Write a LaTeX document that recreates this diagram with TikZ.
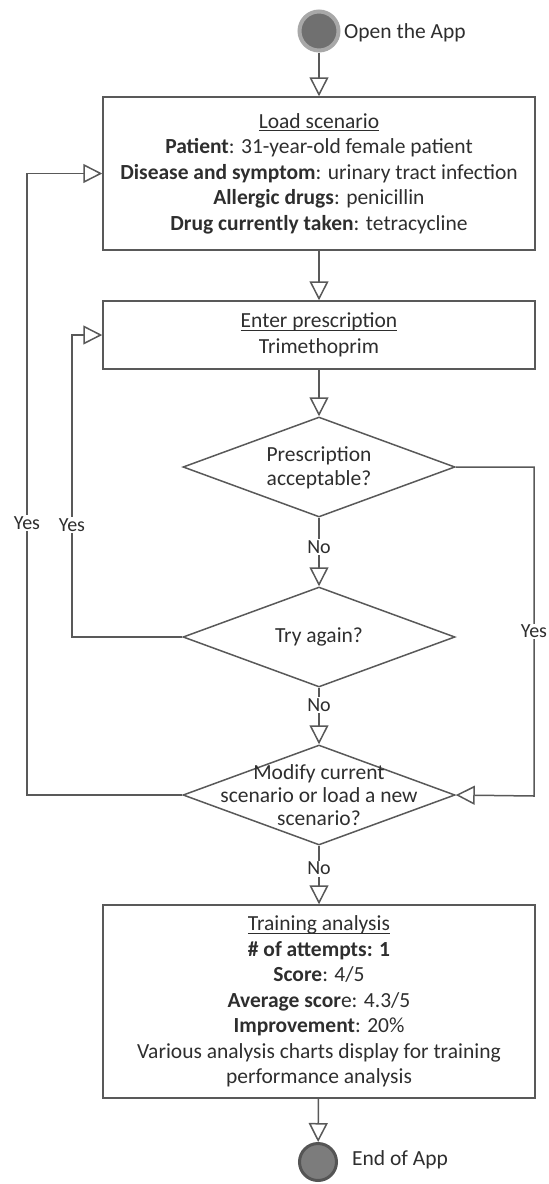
\documentclass[tikz,border=0pt]{standalone}
\usepackage{fontspec}
\setmainfont{Carlito}
\usetikzlibrary{arrows.meta,shapes.geometric}

\definecolor{linegray}{HTML}{595959}
\definecolor{txtgray}{HTML}{2E2E2E}
\definecolor{ringlight}{HTML}{A8A8A8}
\definecolor{startfill}{HTML}{707070}
\definecolor{ringdark}{HTML}{555555}
\definecolor{endfill}{HTML}{7C7C7C}

% underline at a fixed depth, running through descenders
\newsavebox\ulinebox
\newcommand\ulin[1]{\sbox\ulinebox{#1}\rlap{\rule[-2.8pt]{\wd\ulinebox}{0.9pt}}\usebox\ulinebox}

\begin{document}
\begin{tikzpicture}[x=1pt,y=-1pt,
  every node/.style={text=txtgray, font=\fontsize{21.5}{25.5}\selectfont},
  box/.style={draw=linegray, line width=1.5pt, minimum width=432pt, inner sep=0pt, align=center},
  dec/.style={diamond, draw=linegray, line width=1.5pt, minimum width=272pt, minimum height=100pt, inner sep=0pt},
  dectext/.style={align=center, inner sep=0pt},
  flow/.style={draw=linegray, line width=1.5pt, -{Triangle[open,length=19pt,width=19pt]}},
  lbl/.style={fill=white, inner sep=1.5pt, font=\fontsize{20}{22}\selectfont},
  ]
\useasboundingbox (0,0) rectangle (549,1184);

% start and end markers
\node[circle, draw=ringlight, line width=4pt, fill=startfill, minimum size=39pt, inner sep=0pt] (start) at (319,31) {};
\node[anchor=west, inner sep=0pt] (starttext) at (344,33) {Open the App};

% process boxes
\node[box, minimum height=153pt] (load) at (319,173.5) {%
  \ulin{Load scenario}\\
  \textbf{Patient}: 31-year-old female patient\\
  \textbf{Disease and symptom}: urinary tract infection\\
  \textbf{Allergic drugs}: penicillin\\
  \textbf{Drug currently taken}: tetracycline};

\node[box, minimum height=68pt] (presc) at (319,335) {%
  \ulin{Enter prescription}\\
  Trimethoprim};

% decisions
\node[dec] (d1) at (319,467) {};
\node[dectext, font=\fontsize{21.5}{24}\selectfont] (d1t) at (319,468) {Prescription\\acceptable?};

\node[dec] (d2) at (319,637) {};
\node[dectext] (d2t) at (319,637) {Try again?};

\node[dec] (d3) at (319,795) {};
\node[dectext, font=\fontsize{21.5}{23}\selectfont] (d3t) at (319,795) {Modify current\\scenario or load a new\\scenario?};

\node[box, minimum height=193pt] (train) at (319,1001.5) {%
  \ulin{Training analysis}\\
  \textbf{\# of attempts: 1}\\
  \textbf{Score}: 4/5\\
  \textbf{Average scor}e: 4.3/5\\
  \textbf{Improvement}: 20\%\\
  Various analysis charts display for training\\
  performance analysis};

\node[circle, draw=ringdark, line width=3pt, fill=endfill, minimum size=37pt, inner sep=0pt] (stop) at (318,1162) {};
\node[anchor=west, inner sep=0pt] (stoptext) at (352,1160) {End of App};

% bend points of the loops
\coordinate (rtop) at (534,467);
\coordinate (rbot) at (534,796);
\coordinate (obot) at (27,795);
\coordinate (otop) at (27,173.5);
\coordinate (ibot) at (72,637);
\coordinate (itop) at (72,335);

% main flow
\draw[flow] (start) -- (load);
\draw[flow] (load) -- (presc);
\draw[flow] (presc) -- (d1);
\draw[flow] (d1) -- node[lbl, pos=0.43] {No} (d2);
\draw[flow] (d2) -- node[lbl, pos=0.31] {No} (d3);
\draw[flow] (d3) -- node[lbl, pos=0.39] {No} (train);
\draw[flow] (train) -- (stop);

% loops
\draw[flow] (d1.east) -- (rtop) -- node[lbl, pos=0.5] {Yes} (rbot) -- (d3.east);
\draw[flow] (d3.west) -- (obot) -- node[lbl, pos=0.437] {Yes} (otop) -- (load.west);
\draw[flow] (d2.west) -- (ibot) -- node[lbl, pos=0.37] {Yes} (itop) -- (presc.west);
\end{tikzpicture}
\end{document}
